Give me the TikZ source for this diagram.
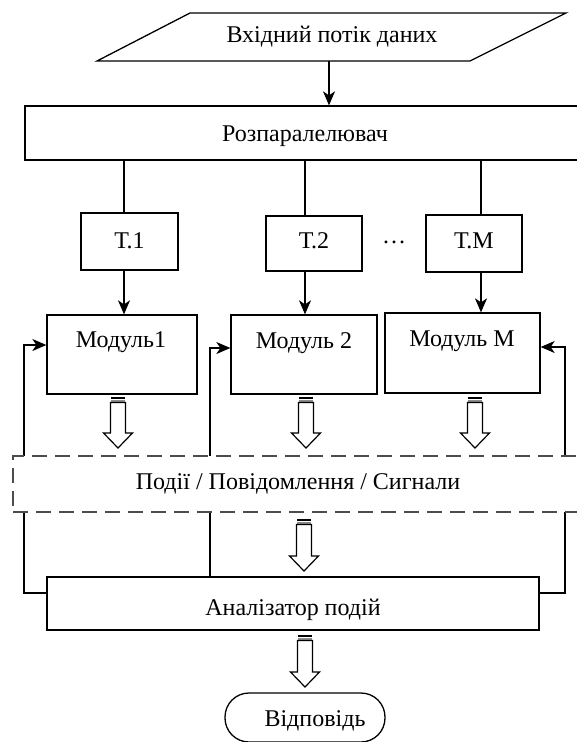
\documentclass[tikz,border=0pt]{standalone}
\usepackage{fontspec}
\setmainfont{Liberation Serif}
\usetikzlibrary{arrows.meta}
\tikzset{
  ln/.style={line width=1.3pt},
  box/.style={draw, ln, inner sep=0pt},
  lbl/.style={inner sep=0pt, anchor=base, font=\fontsize{24}{28}\selectfont},
  arr/.style={ln, -{Stealth[length=14pt,width=12pt,inset=4pt]}},
  dashbox/.style={draw=black!70, line width=1.3pt, dash pattern=on 15pt off 8pt, fill=white, inner sep=0pt},
}
\newcommand\blkarrow[3]{%
  \fill[black] ({#1-7},#2) rectangle ({#1+7},{#2+2});
  \fill[black!45] ({#1-7},{#2+2.6}) rectangle ({#1+7},{#2+4.6});
  \draw[line width=1.2pt, line join=miter, fill=white]
    ({#1-7.5},{#2+5.5}) -- ({#1+7.5},{#2+5.5}) -- ({#1+7.5},{#2+#3-15})
    -- ({#1+14.5},{#2+#3-15}) -- (#1,{#2+#3}) -- ({#1-14.5},{#2+#3-15})
    -- ({#1-7.5},{#2+#3-15}) -- cycle;}
\begin{document}
\begin{tikzpicture}[x=1pt,y=-1pt]
\clip (0,0) rectangle (577,742);
\fill[white] (0,0) rectangle (577,742);

% helper coordinates
\coordinate (c1) at (124,0);
\coordinate (c2) at (305,0);
\coordinate (c3) at (481,0);
\coordinate (fbL) at (24,0);
\coordinate (fbM) at (210,0);
\coordinate (fbR) at (565,0);
\coordinate (yfb) at (0,593);
\coordinate (y1) at (0,345);
\coordinate (y2) at (0,348);
\coordinate (y3) at (0,347);

% input
\draw[ln] (190,13) -- (566,13) -- (470,61) -- (97,61) -- cycle;
\node[lbl] (intxt) at (332,42.7) {Вхідний потік даних};
\coordinate (inbot) at (329,61);

% demultiplexer
\node[box, minimum width=576pt, minimum height=54pt] (rozp) at (313,133) {};
\node[lbl] (rozptxt) at (305,141.7) {Розпаралелювач};

% threads
\node[box, minimum width=97pt, minimum height=57pt] (t1) at (129.5,241.5) {};
\node[box, minimum width=96pt, minimum height=55pt] (t2) at (314,243.5) {};
\node[box, minimum width=96pt, minimum height=57pt] (tm) at (474,243.5) {};
\node[lbl] (t1txt) at (129.5,248) {Т.1};
\node[lbl] (t2txt) at (314,248) {Т.2};
\node[lbl] (tmtxt) at (474,248) {Т.М};
\node[lbl] (dots) at (394,243) {…};

% modules
\node[box, minimum width=150pt, minimum height=79pt] (m1) at (122,354.5) {};
\node[box, minimum width=146pt, minimum height=79pt] (m2) at (304,354.5) {};
\node[box, minimum width=155pt, minimum height=80pt] (mm) at (462.5,353) {};
\node[lbl] (m1txt) at (121,347) {Модуль1};
\node[lbl] (m2txt) at (304,348) {Модуль 2};
\node[lbl] (mmtxt) at (462,346) {Модуль M};

% analyser
\node[box, minimum width=492pt, minimum height=53pt] (an) at (293,603.5) {};
\node[lbl] (antxt) at (293,615) {Аналізатор подій};

% answer
\node[box, rounded corners=24pt, minimum width=160pt, minimum height=49pt] (ans) at (305,717.5) {};
\node[lbl] (anstxt) at (315,726.7) {Відповідь};

% connectors
\draw[arr] (inbot) -- (inbot |- rozp.north);
\draw[ln] (rozp.south -| c1) -- (t1.north -| c1);
\draw[ln] (rozp.south -| c2) -- (t2.north -| c2);
\draw[ln] (rozp.south -| c3) -- (tm.north -| c3);
\draw[arr] (t1.south -| c1) -- (m1.north -| c1);
\draw[arr] (t2.south -| c2) -- (m2.north -| c2);
\draw[arr] (tm.south -| c3) -- (mm.north -| c3);

% feedback
\draw[arr] (an.west |- yfb) -| (fbL |- y1) -- (m1.west |- y1);
\draw[arr] (an.north -| fbM) |- (m2.west |- y2);
\draw[arr] (an.east |- yfb) -| (fbR |- y3) -- (mm.east |- y3);

% events bus
\node[dashbox, minimum width=587pt, minimum height=56pt] (bus) at (306.5,484) {};
\node[lbl] (bustxt) at (298,489) {Події / Повідомлення / Сигнали};

% block arrows
\blkarrow{118}{397}{51}
\blkarrow{306}{397}{51}
\blkarrow{475}{397}{51}
\blkarrow{304}{519}{52}
\blkarrow{305}{635}{52}
\end{tikzpicture}
\end{document}
